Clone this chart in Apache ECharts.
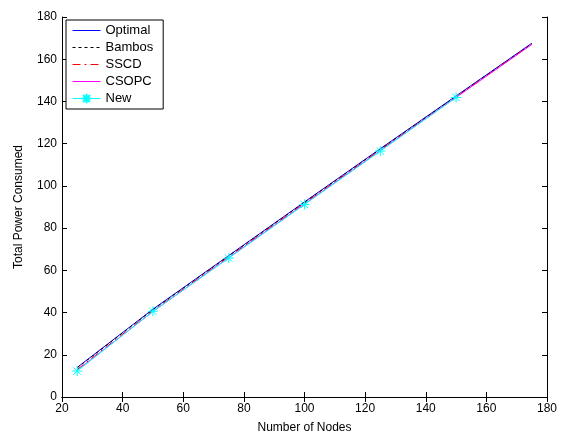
<!DOCTYPE html>
<html><head><meta charset="utf-8">
<script src="https://cdn.jsdelivr.net/npm/echarts@6/dist/echarts.min.js"></script>
<style>html,body{margin:0;padding:0;background:#fff}#c{width:567px;height:435px}</style>
</head><body><div id="c"></div>
<script>
var nodes = [25, 50, 75, 100, 125, 150, 175];
var optimal = [14.0, 41.6, 67.0, 92.4, 117.6, 142.6, 167.6];
var bambos = [13.8, 41.4, 66.8, 92.2, 117.4, 142.4, 167.4];
var sscd = [13.0, 40.9, 66.4, 91.8, 117.0, 142.1, 167.2];
var csopc = [12.6, 40.5, 66.0, 91.4, 116.7, 141.9, 167.0];
var newNodes = [25, 50, 75, 100, 125, 150];
var newVals = [12.3, 40.6, 65.8, 91.2, 116.5, 141.9];
var xTicks = [20, 180, 20];
var yTicks = [0, 180, 20];

function pairs(xs, ys){ return xs.map(function(x,i){return [x, ys[i]];}); }
var font = 'Liberation Sans, Arial, sans-serif';
var star = 'path://M0,-5L0,5M-5,0L5,0M-3.6,-3.6L3.6,3.6M-3.6,3.6L3.6,-3.6';
var hidden = {opacity:0};

var chart = echarts.init(document.getElementById('c'), null, {renderer:'canvas'});
var axisLine = {show:true, lineStyle:{color:'#000', width:1}};
chart.setOption({
  animation:false,
  backgroundColor:'#fff',
  grid:{left:62, right:20, top:17, bottom:38, containLabel:false, outerBoundsMode:'none'},
  legend:{
    left:66, top:20, orient:'vertical', itemGap:4, itemWidth:28, itemHeight:12,
    padding:[4,10,4,6], borderColor:'#000', borderWidth:1, backgroundColor:'#fff',
    textStyle:{fontFamily:font, fontSize:13, color:'#000'},
    data:[
      {name:'Optimal', itemStyle:hidden, lineStyle:{color:'#0000ff', width:1}},
      {name:'Bambos', itemStyle:hidden, lineStyle:{color:'#000000', width:1, type:[3,3]}},
      {name:'SSCD', itemStyle:hidden, lineStyle:{color:'#ff0000', width:1, type:[8,4,2,4]}},
      {name:'CSOPC', itemStyle:hidden, lineStyle:{color:'#ff00ff', width:1}},
      {name:'New', lineStyle:{color:'#00ffff', width:1}}
    ]
  },
  xAxis:[{
    type:'value', min:xTicks[0], max:xTicks[1], interval:xTicks[2],
    name:'Number of Nodes', nameLocation:'middle', nameGap:25,
    nameTextStyle:{fontFamily:font, fontSize:12, color:'#000'},
    axisLine:axisLine, axisTick:{inside:true, length:5, lineStyle:{color:'#000'}},
    axisLabel:{fontFamily:font, fontSize:12, color:'#000', margin:6},
    splitLine:{show:false}
  },{
    type:'value', position:'top', min:xTicks[0], max:xTicks[1], interval:xTicks[2],
    axisLine:axisLine, axisTick:{inside:true, length:5, lineStyle:{color:'#000'}},
    axisLabel:{show:false}, splitLine:{show:false}
  }],
  yAxis:[{
    type:'value', min:yTicks[0], max:yTicks[1], interval:yTicks[2],
    name:'Total Power Consumed', nameLocation:'middle', nameGap:37,
    nameTextStyle:{fontFamily:font, fontSize:12, color:'#000'},
    axisLine:axisLine, axisTick:{inside:true, length:5, lineStyle:{color:'#000'}},
    axisLabel:{fontFamily:font, fontSize:12, color:'#000', margin:5},
    splitLine:{show:false}
  },{
    type:'value', position:'right', min:yTicks[0], max:yTicks[1], interval:yTicks[2],
    axisLine:axisLine, axisTick:{inside:true, length:5, lineStyle:{color:'#000'}},
    axisLabel:{show:false}, splitLine:{show:false}
  }],
  series:[
    {name:'Optimal', type:'line', data:pairs(nodes, optimal), showSymbol:false, symbol:'none',
     color:'#0000ff', lineStyle:{color:'#0000ff', width:1}},
    {name:'Bambos', type:'line', data:pairs(nodes, bambos), showSymbol:false, symbol:'none',
     color:'#000000', lineStyle:{color:'#000000', width:1, type:[3,3]}},
    {name:'SSCD', type:'line', data:pairs(nodes, sscd), showSymbol:false, symbol:'none',
     color:'#ff0000', lineStyle:{color:'#ff0000', width:1, type:[8,4,2,4]}},
    {name:'CSOPC', type:'line', data:pairs(nodes, csopc), showSymbol:false, symbol:'none',
     color:'#ff00ff', lineStyle:{color:'#ff00ff', width:1}},
    {name:'New', type:'line', data:pairs(newNodes, newVals), symbol:star, symbolSize:10,
     color:'#00ffff', lineStyle:{color:'#00ffff', width:1},
     itemStyle:{color:'#00ffff', borderColor:'#00ffff', borderWidth:1}}
  ]
});
</script></body></html>
